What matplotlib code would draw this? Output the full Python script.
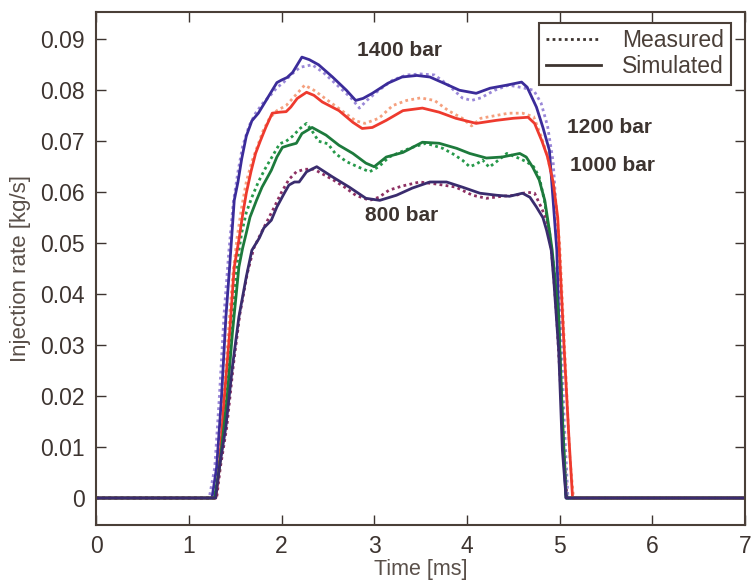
import matplotlib
matplotlib.use('Agg')
import matplotlib.pyplot as plt
from matplotlib.lines import Line2D

# 1400 bar
t_sim_1400 = [0, 1.25, 1.30, 1.35, 1.40, 1.44, 1.49, 1.53, 1.57, 1.62, 1.68, 1.75, 1.80, 1.85, 1.90, 1.95, 2.00,
              2.06, 2.12, 2.22, 2.30, 2.40, 2.55, 2.70, 2.80, 2.88, 2.98, 3.15, 3.30, 3.46, 3.60, 3.75, 3.92, 4.10,
              4.25, 4.43, 4.59, 4.65, 4.75, 4.82, 4.89, 4.97, 5.00, 5.04, 5.07, 7.0]
q_sim_1400 = [0, 0, 0.006, 0.019, 0.0355, 0.0453, 0.0584, 0.062, 0.0665, 0.071, 0.074, 0.0755, 0.077, 0.0785, 0.080,
              0.0815, 0.082, 0.0825, 0.0835, 0.0865, 0.086, 0.085, 0.0826, 0.080, 0.078, 0.0784, 0.0794, 0.0814,
              0.0826, 0.0829, 0.0826, 0.0814, 0.080, 0.0794, 0.0804, 0.081, 0.0816, 0.0806, 0.0767, 0.0727, 0.0682,
              0.0486, 0.029, 0.0094, 0, 0]
t_mea_1400 = [0, 1.22, 1.28, 1.33, 1.38, 1.43, 1.48, 1.53, 1.58, 1.65, 1.72, 1.80, 1.88, 1.95, 2.02, 2.10, 2.20,
              2.33, 2.45, 2.60, 2.75, 2.84, 2.92, 3.05, 3.20, 3.35, 3.50, 3.65, 3.80, 3.95, 4.05, 4.15, 4.30, 4.45,
              4.60, 4.72, 4.80, 4.87, 4.93, 4.97, 5.01, 5.05, 5.09, 7.0]
q_mea_1400 = [0, 0, 0.006, 0.02, 0.036, 0.048, 0.058, 0.064, 0.069, 0.073, 0.0755, 0.0775, 0.079, 0.0805, 0.0815,
              0.083, 0.0845, 0.085, 0.0835, 0.081, 0.0785, 0.0765, 0.078, 0.080, 0.082, 0.083, 0.0832, 0.083, 0.081,
              0.0785, 0.078, 0.0785, 0.080, 0.081, 0.0805, 0.080, 0.0775, 0.073, 0.066, 0.055, 0.035, 0.015, 0, 0]

# 1200 bar
t_sim_1200 = [0, 1.29, 1.33, 1.38, 1.44, 1.49, 1.54, 1.58, 1.62, 1.67, 1.72, 1.77, 1.83, 1.90, 1.98, 2.05, 2.10,
              2.17, 2.27, 2.35, 2.44, 2.62, 2.77, 2.87, 2.98, 3.13, 3.31, 3.52, 3.70, 3.88, 4.10, 4.32, 4.50, 4.66,
              4.73, 4.81, 4.87, 4.93, 4.98, 5.05, 5.10, 5.14, 7.0]
q_sim_1200 = [0, 0, 0.006, 0.019, 0.0323, 0.0453, 0.0506, 0.0555, 0.0598, 0.064, 0.0676, 0.070, 0.0727, 0.0755,
              0.0757, 0.0758, 0.0767, 0.0784, 0.0796, 0.079, 0.0777, 0.076, 0.0737, 0.0725, 0.0727, 0.0741, 0.076,
              0.0765, 0.0757, 0.0745, 0.0735, 0.0741, 0.0745, 0.0747, 0.0735, 0.070, 0.0669, 0.062, 0.055, 0.029,
              0.012, 0, 0]
t_mea_1200 = [0, 1.28, 1.32, 1.37, 1.42, 1.47, 1.52, 1.57, 1.62, 1.68, 1.74, 1.80, 1.87, 1.95, 2.05, 2.15, 2.25,
              2.35, 2.50, 2.65, 2.80, 2.90, 3.05, 3.20, 3.35, 3.50, 3.65, 3.80, 3.95, 4.05, 4.15, 4.30, 4.45, 4.60,
              4.72, 4.80, 4.87, 4.94, 5.00, 5.06, 5.11, 5.15, 7.0]
q_mea_1200 = [0, 0, 0.006, 0.018, 0.031, 0.043, 0.051, 0.057, 0.062, 0.066, 0.069, 0.072, 0.0745, 0.076, 0.077,
              0.079, 0.081, 0.080, 0.078, 0.076, 0.074, 0.0735, 0.0745, 0.077, 0.078, 0.0785, 0.078, 0.076, 0.0745,
              0.073, 0.0745, 0.075, 0.0755, 0.0755, 0.0748, 0.071, 0.067, 0.061, 0.050, 0.027, 0.008, 0, 0]

# 1000 bar
t_sim_1000 = [0, 1.28, 1.33, 1.41, 1.47, 1.54, 1.58, 1.62, 1.66, 1.73, 1.79, 1.89, 1.95, 2.01, 2.08, 2.16, 2.22,
              2.33, 2.48, 2.62, 2.77, 2.91, 3.00, 3.13, 3.31, 3.52, 3.70, 3.89, 4.03, 4.21, 4.38, 4.57, 4.64, 4.71,
              4.78, 4.84, 4.89, 4.92, 4.99, 5.03, 5.07, 7.0]
q_sim_1000 = [0, 0, 0.006, 0.019, 0.0323, 0.0453, 0.049, 0.052, 0.0551, 0.0584, 0.061, 0.0643, 0.0669, 0.0688,
              0.0692, 0.0696, 0.0715, 0.0727, 0.0712, 0.0692, 0.0676, 0.0657, 0.065, 0.0669, 0.0678, 0.0698, 0.0696,
              0.0686, 0.0676, 0.0667, 0.0669, 0.0676, 0.0669, 0.0649, 0.0624, 0.0584, 0.0525, 0.0486, 0.0355, 0.016,
              0, 0]
t_mea_1000 = [0, 1.27, 1.32, 1.40, 1.46, 1.52, 1.57, 1.62, 1.68, 1.75, 1.82, 1.90, 1.98, 2.05, 2.12, 2.20, 2.27,
              2.33, 2.40, 2.50, 2.58, 2.70, 2.82, 2.95, 3.05, 3.16, 3.30, 3.41, 3.56, 3.74, 3.85, 3.95, 4.03, 4.10,
              4.17, 4.24, 4.32, 4.43, 4.53, 4.64, 4.72, 4.78, 4.84, 4.89, 4.94, 4.99, 5.03, 5.07, 7.0]
q_mea_1000 = [0, 0, 0.006, 0.019, 0.033, 0.046, 0.052, 0.056, 0.059, 0.062, 0.0645, 0.067, 0.0695, 0.070, 0.071,
              0.0725, 0.0735, 0.072, 0.070, 0.0695, 0.0676, 0.066, 0.065, 0.064, 0.065, 0.0669, 0.068, 0.0688,
              0.0696, 0.0686, 0.0675, 0.0663, 0.065, 0.0655, 0.0663, 0.0649, 0.066, 0.0676, 0.0669, 0.066, 0.065,
              0.063, 0.058, 0.0515, 0.045, 0.034, 0.016, 0, 0]

# 800 bar
t_sim_800 = [0, 1.29, 1.33, 1.40, 1.47, 1.54, 1.62, 1.68, 1.76, 1.81, 1.89, 1.95, 2.03, 2.08, 2.14, 2.19, 2.27,
             2.38, 2.55, 2.73, 2.91, 3.06, 3.24, 3.41, 3.60, 3.78, 3.95, 4.14, 4.32, 4.46, 4.60, 4.68, 4.75, 4.82,
             4.86, 4.91, 4.94, 4.99, 5.03, 5.07, 7.0]
q_sim_800 = [0, 0, 0.006, 0.014, 0.0257, 0.0355, 0.0434, 0.0486, 0.051, 0.053, 0.0545, 0.0571, 0.0598, 0.0614,
             0.062, 0.062, 0.064, 0.065, 0.063, 0.061, 0.0588, 0.0584, 0.0594, 0.0608, 0.062, 0.062, 0.061, 0.0598,
             0.0594, 0.0592, 0.0598, 0.059, 0.0571, 0.055, 0.0525, 0.0486, 0.042, 0.029, 0.0094, 0, 0]
t_mea_800 = [0, 1.30, 1.34, 1.41, 1.48, 1.55, 1.63, 1.70, 1.78, 1.85, 1.92, 2.00, 2.08, 2.16, 2.25, 2.35, 2.45,
             2.55, 2.68, 2.80, 2.95, 3.05, 3.16, 3.30, 3.49, 3.67, 3.88, 4.06, 4.21, 4.38, 4.53, 4.65, 4.73, 4.80,
             4.85, 4.89, 4.93, 4.97, 5.01, 5.05, 5.08, 7.0]
q_mea_800 = [0, 0, 0.006, 0.014, 0.026, 0.036, 0.044, 0.049, 0.052, 0.0545, 0.057, 0.060, 0.0625, 0.064, 0.0645,
             0.0645, 0.0635, 0.0625, 0.061, 0.0594, 0.0584, 0.059, 0.0604, 0.0612, 0.062, 0.0616, 0.061, 0.0594,
             0.0588, 0.0592, 0.0594, 0.060, 0.0598, 0.0571, 0.055, 0.0525, 0.045, 0.035, 0.022, 0.008, 0, 0]

pressures = ['1400 bar', '1200 bar', '1000 bar', '800 bar']
label_t = [3.27, 5.54, 5.57, 3.30]
label_q = [0.0878, 0.0727, 0.0653, 0.0555]

ink = '#3d3430'
plt.rcParams['font.family'] = ['Liberation Sans', 'DejaVu Sans']

fig = plt.figure(figsize=(7.51, 5.84), dpi=100)
ax = fig.add_axes([0.128, 0.101, 0.864, 0.878])

# measured first, simulated on top
ax.plot(t_mea_1400, q_mea_1400, color='#9a88d8', lw=2, ls=(0, (1, 1.2)))
ax.plot(t_mea_1200, q_mea_1200, color='#f5a07e', lw=2, ls=(0, (1, 1.2)))
ax.plot(t_mea_1000, q_mea_1000, color='#26994a', lw=2, ls=(0, (1, 1.2)))
ax.plot(t_mea_800, q_mea_800, color='#8e3063', lw=2, ls=(0, (1, 1.2)))

ax.plot(t_sim_1400, q_sim_1400, color='#3b2c9a', lw=2)
ax.plot(t_sim_1200, q_sim_1200, color='#ee3a2e', lw=2)
ax.plot(t_sim_1000, q_sim_1000, color='#1d7a3c', lw=2)
ax.plot(t_sim_800, q_sim_800, color='#3a2c6e', lw=2)

for txt, x, y in zip(pressures, label_t, label_q):
    ax.text(x, y, txt, ha='center', va='center', fontsize=15, fontweight='bold', color=ink)

ax.set_xlim(0, 7)
ax.set_ylim(-0.0053, 0.0953)
ax.set_xticks(range(8))
ax.set_yticks([0, 0.01, 0.02, 0.03, 0.04, 0.05, 0.06, 0.07, 0.08, 0.09])
ax.set_yticklabels(['0', '0.01', '0.02', '0.03', '0.04', '0.05', '0.06', '0.07', '0.08', '0.09'])
ax.tick_params(direction='in', length=7, width=1, colors=ink, labelsize=16.5, pad=8,
               top=True, right=True)
ax.tick_params(axis='x', pad=7)
for s in ax.spines.values():
    s.set_color('#4a3f38')
    s.set_linewidth(1.5)

ax.set_xlabel('Time [ms]', fontsize=15.5, color='#5a504a', labelpad=1)
ax.set_ylabel('Injection rate [kg/s]', fontsize=16, color='#5a504a', labelpad=7)

handles = [Line2D([], [], color=ink, lw=2, ls=(0, (1, 1.2))),
           Line2D([], [], color=ink, lw=2)]
leg = ax.legend(handles, ['Measured', 'Simulated'], loc='upper right', fontsize=16.5,
                fancybox=False, framealpha=1, edgecolor='#4a3f38', borderpad=0.3,
                handlelength=2.4, handletextpad=0.9, labelspacing=0.1,
                borderaxespad=0, bbox_to_anchor=(0.978, 0.98))
leg.get_frame().set_linewidth(1.5)
for t in leg.get_texts():
    t.set_color('#4a3f38')

fig.savefig('out.png', dpi=100)
